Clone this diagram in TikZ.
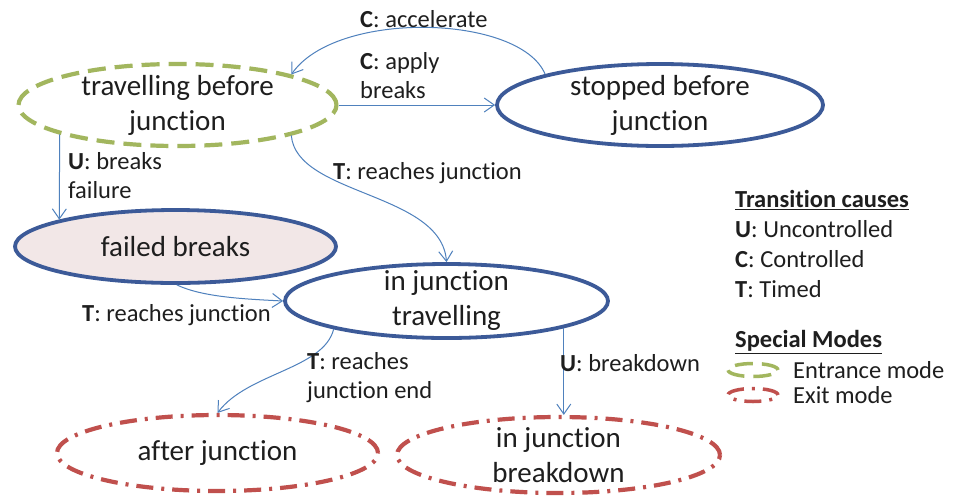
\documentclass[tikz,border=0pt]{standalone}
\usepackage{fontspec}
\setmainfont{Carlito}[Ligatures=NoCommon]
\usetikzlibrary{shapes.geometric,arrows.meta}
\definecolor{modeblue}{RGB}{60,90,152}
\definecolor{entrygreen}{RGB}{162,182,94}
\definecolor{exitred}{RGB}{192,80,77}
\definecolor{arrowblue}{RGB}{79,129,189}
\definecolor{failfill}{RGB}{242,231,231}
\definecolor{ink}{RGB}{30,30,30}
\begin{document}
\begin{tikzpicture}[x=1pt,y=-1pt,
  mode/.style={ellipse, draw=modeblue, line width=3.8pt, inner xsep=0pt, inner ysep=-12pt,
    align=center, text=ink, font=\fontsize{29}{35}\selectfont},
  entry/.style={mode, draw=entrygreen, line width=4.2pt, dash pattern=on 18pt off 9pt},
  exitm/.style={mode, draw=exitred, line width=4.2pt, dash pattern=on 17pt off 8pt on 3pt off 8pt},
  trans/.style={draw=arrowblue, line width=1pt, -{Straight Barb[length=10pt,width=14pt]}},
  lbl/.style={anchor=west, align=left, inner sep=0pt, text=ink, font=\fontsize{24.5}{29}\selectfont},
  key/.style={ellipse, inner sep=0pt, minimum width=50pt, minimum height=13pt, line width=3.5pt},
]
\useasboundingbox[fill=white] (0,0) rectangle (957,499);

% modes
\node[entry, minimum width=318pt, minimum height=82pt] (trav) at (177.5,105) {travelling before\\junction};
\node[mode, minimum width=326pt, minimum height=82pt] (stop) at (660,105) {stopped before\\junction};
\node[mode, fill=failfill, minimum width=321pt, minimum height=73pt] (fail) at (175.5,246.5) {failed breaks};
\node[mode, minimum width=323pt, minimum height=74pt] (injt) at (446.5,301) {in junction\\travelling};
\node[exitm, minimum width=321pt, minimum height=76pt] (after) at (217.5,453) {after junction};
\node[exitm, minimum width=323pt, minimum height=76pt] (brk) at (558.5,455) {in junction\\breakdown};

% transitions
\draw[trans] (stop.165) .. controls +(-25,-60) and +(45,-65) .. (trav.15);
\draw[trans] (trav.east) -- (stop.west);
\draw[trans] (trav.194) -- (fail.167);
\draw[trans] (trav.-15) .. controls +(5,60) and +(-5,-70) .. (injt.north);
\draw[trans] (fail.-88) .. controls +(25,12) and +(-40,-2) .. (injt.west);
\draw[trans] (injt.194) .. controls +(-10,40) and +(30,-40) .. (after.north);
\draw[trans] (injt.-13) -- (injt.-13 |- brk.north);

% transition labels
\node[lbl] (lacc) at (360,19) {\textbf{C}: accelerate};
\node[lbl] (lapp) at (360,76) {\textbf{C}: apply\\breaks};
\node[lbl] (lfail) at (68,176) {\textbf{U}: breaks\\failure};
\node[lbl] (lreach) at (333,173) {\textbf{T}: reaches junction};
\node[lbl] (lreach2) at (82,315) {\textbf{T}: reaches junction};
\node[lbl] (lend) at (307,378) {\textbf{T}: reaches\\junction end};
\node[lbl] (lbd) at (560,363) {\textbf{U}: breakdown};

% legend
\node[lbl] (lgc) at (735,200) {\textbf{\underline{Transition causes}}};
\node[lbl] (lgu) at (735,229) {\textbf{U}: Uncontrolled};
\node[lbl] (lgcc) at (735,259) {\textbf{C}: Controlled};
\node[lbl] (lgt) at (735,289) {\textbf{T}: Timed};
\node[lbl] (lgs) at (735,342) {\textbf{\underline{Special Modes}}};
\node[key, draw=entrygreen, dash pattern=on 18pt off 9pt] (kin) at (753,370) {};
\node[key, draw=exitred, dash pattern=on 17pt off 8pt on 3pt off 8pt] (kout) at (753,395) {};
\node[lbl] (lgin) at (793,370) {Entrance mode};
\node[lbl] (lgout) at (793,395) {Exit mode};
\end{tikzpicture}
\end{document}
